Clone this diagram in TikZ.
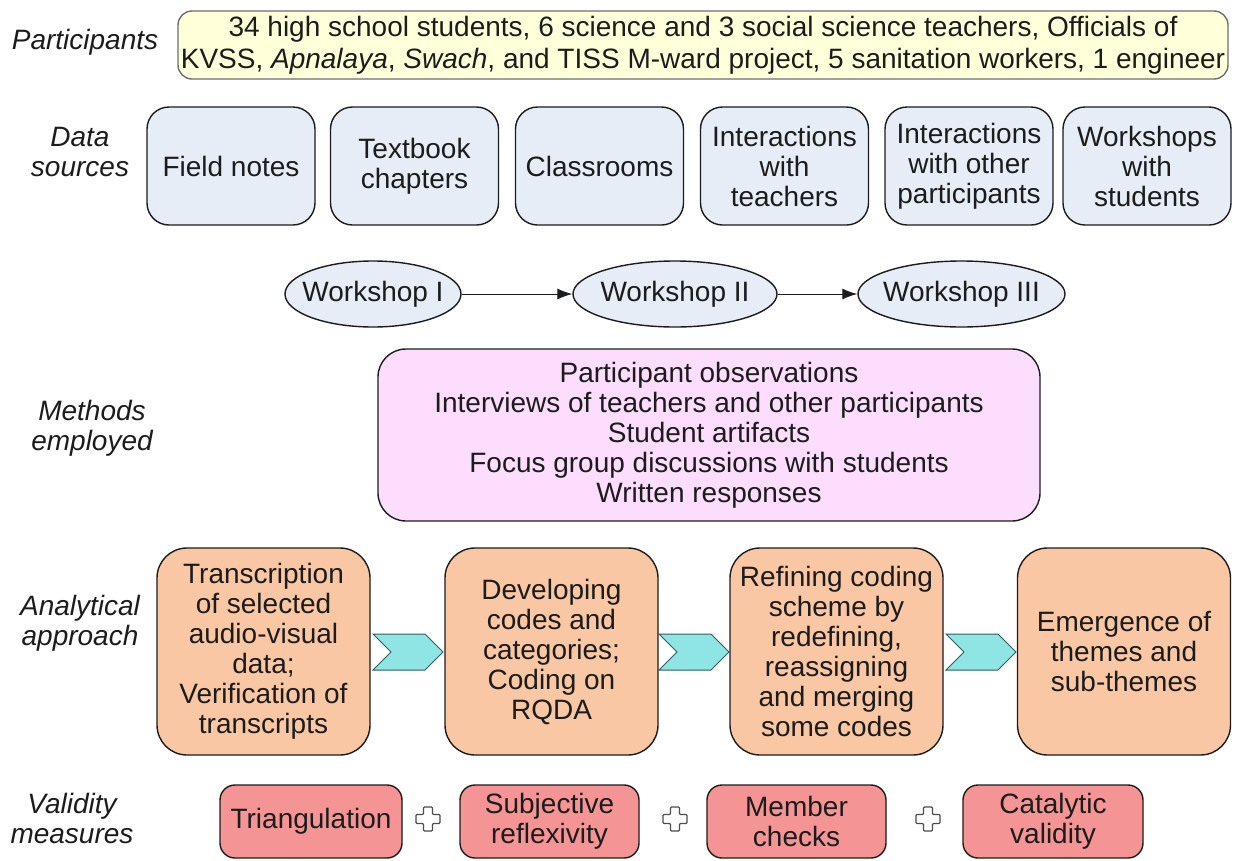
\documentclass[tikz,border=0pt]{standalone}
\usepackage{fontspec}
\setmainfont{Liberation Sans}
\usetikzlibrary{arrows.meta,shapes.geometric}

\definecolor{inkc}{HTML}{1C1C1C}
\definecolor{partfill}{HTML}{FFFFD9}
\definecolor{partline}{HTML}{6E6E6E}
\definecolor{srcfill}{HTML}{E6EDF6}
\definecolor{methfill}{HTML}{FDDDFD}
\definecolor{anafill}{HTML}{F9C7A3}
\definecolor{chevfill}{HTML}{8FE5E3}
\definecolor{chevline}{HTML}{2E5E62}
\definecolor{valfill}{HTML}{F59494}

\tikzset{
  basefont/.style={font=\fontsize{28}{30}\selectfont},
  rowlabel/.style={font=\fontsize{28}{30}\selectfont\itshape, align=center, text=inkc},
  box/.style={basefont, draw=inkc, line width=1.4pt, align=center, text=inkc, inner sep=0pt},
  partbox/.style={box, font=\fontsize{28}{32}\selectfont, draw=partline, fill=partfill, rounded corners=14pt},
  srcbox/.style={box, fill=srcfill, rounded corners=22pt, minimum width=168pt, minimum height=118pt},
  wsnode/.style={box, ellipse, fill=srcfill, minimum height=66pt},
  methbox/.style={box, fill=methfill, rounded corners=28pt},
  anabox/.style={box, fill=anafill, rounded corners=30pt, minimum width=213pt, minimum height=207pt},
  valbox/.style={box, fill=valfill, rounded corners=15pt, minimum height=73pt},
  flow/.style={draw=inkc, line width=1pt, -{Latex[length=15pt,width=11pt]}},
  chevron/.pic={
    \draw[fill=chevfill, draw=chevline, line width=1pt]
      (-35,-18) -- (17,-18) -- (35,0) -- (17,18) -- (-35,18) -- (-17,0) -- cycle;
  },
  plusmark/.pic={
    \draw[fill=white, draw=black!70, line width=1.3pt, rounded corners=1pt]
      (-4.5,-12) -- (4.5,-12) -- (4.5,-4.5) -- (12,-4.5) -- (12,4.5) -- (4.5,4.5)
      -- (4.5,12) -- (-4.5,12) -- (-4.5,4.5) -- (-12,4.5) -- (-12,-4.5) -- (-4.5,-4.5) -- cycle;
  },
}

\begin{document}
\begin{tikzpicture}[x=1pt, y=-1pt]
  \useasboundingbox[fill=white] (0,0) rectangle (1235,860);

  % Row labels
  \node[rowlabel] (lpart) at (85,42) {Participants};
  \node[rowlabel] (ldata) at (80,152) {Data\\sources};
  \node[rowlabel] (lmeth) at (92,428) {Methods\\employed};
  \node[rowlabel] (lana)  at (80,623) {Analytical\\approach};
  \node[rowlabel] (lval)  at (72,818) {Validity\\measures};

  % Participants
  \node[partbox, minimum width=1050pt, minimum height=68pt] (part) at (703,45)
    {34 high school students, 6 science and 3 social science teachers, Officials of\\
     KVSS, \textit{Apnalaya}, \textit{Swach}, and TISS M-ward project, 5 sanitation workers, 1 engineer};

  % Data sources
  \node[srcbox] (fn)  at (231,166)   {Field notes};
  \node[srcbox] (tb)  at (414.5,166) {Textbook\\chapters};
  \node[srcbox] (cl)  at (599.5,166) {Classrooms};
  \node[srcbox] (it)  at (784.5,166) {Interactions\\with\\teachers};
  \node[srcbox] (io)  at (969,166)   {Interactions\\with other\\participants};
  \node[srcbox] (ws)  at (1147,166)  {Workshops\\with\\students};

  % Workshops sequence (text boxed to zero width so the ellipse keeps its set size)
  \node[wsnode, minimum width=176pt] (w1) at (373,294)   {\makebox[0pt]{Workshop I}};
  \node[wsnode, minimum width=204pt] (w2) at (675,294)   {\makebox[0pt]{Workshop II}};
  \node[wsnode, minimum width=207pt] (w3) at (961.5,294) {\makebox[0pt]{Workshop III}};
  \draw[flow] (w1) -- (w2);
  \draw[flow] (w2) -- (w3);

  % Methods employed
  \node[methbox, minimum width=662pt, minimum height=172pt] (meth) at (709,435)
    {Participant observations\\
     Interviews of teachers and other participants\\
     Student artifacts\\
     Focus group discussions with students\\
     Written responses};

  % Analytical approach
  \node[anabox] (a1) at (263.5,651.5)
    {Transcription\\of selected\\audio-visual\\data;\\Verification of\\transcripts};
  \node[anabox] (a2) at (551.5,651.5)
    {Developing\\codes and\\categories;\\Coding on\\RQDA};
  \node[anabox] (a3) at (836.5,651.5)
    {Refining coding\\scheme by\\redefining,\\reassigning\\and merging\\some codes};
  \node[anabox] (a4) at (1124,651.5)
    {Emergence of\\themes and\\sub-themes};
  \pic at (408,652) {chevron};
  \pic at (694,652) {chevron};
  \pic at (981,652) {chevron};

  % Validity measures
  \node[valbox, minimum width=182pt] (v1) at (311,821.5)    {Triangulation};
  \node[valbox, minimum width=179pt] (v2) at (549.5,821.5)  {Subjective\\reflexivity};
  \node[valbox, minimum width=179pt] (v3) at (796.5,821.5)  {Member\\checks};
  \node[valbox, minimum width=180pt] (v4) at (1053,821.5)   {Catalytic\\validity};
  \pic at (428,819) {plusmark};
  \pic at (675,819) {plusmark};
  \pic at (928,819) {plusmark};
\end{tikzpicture}
\end{document}
